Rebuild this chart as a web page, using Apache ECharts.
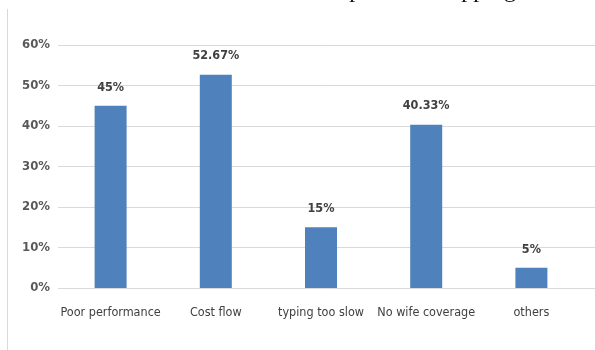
<!DOCTYPE html>
<html>
<head>
<meta charset="utf-8">
<script src="https://cdn.jsdelivr.net/npm/echarts@6/dist/echarts.min.js"></script>
<style>
  html, body { margin: 0; padding: 0; background: #fff; }
  #main { width: 595px; height: 350px; }
</style>
</head>
<body>
<div id="main"></div>
<script>
// data
const categories = ['Poor performance', 'Cost flow', 'typing too slow', 'No wife coverage', 'others'];
const values = [45, 52.67, 15, 40.33, 5];
const yTicks = [0, 10, 20, 30, 40, 50, 60];

const labelFont = '"DejaVu Sans Condensed", "Liberation Sans Narrow", sans-serif';
const gridColor = '#d9d9d9';

const chart = echarts.init(document.getElementById('main'));

const option = {
    animation: false,
    backgroundColor: '#fff',
    grid: [
        // plot area for the bars
        { left: 58, right: 11, top: 45, bottom: 62 },
        // wider copy only for the gridlines (they run to the edge)
        { left: 58, right: 0, top: 45, bottom: 62 }
    ],
    xAxis: [
        {
            type: 'category',
            gridIndex: 0,
            data: categories,
            axisTick: { show: false },
            axisLine: { show: false },
            axisLabel: {
                interval: 0,
                margin: 18,
                color: '#404040',
                fontSize: 12.5,
                fontFamily: labelFont
            }
        },
        {
            type: 'category',
            gridIndex: 1,
            data: categories,
            show: false
        }
    ],
    yAxis: [
        {
            type: 'value',
            gridIndex: 0,
            min: yTicks[0],
            max: yTicks[yTicks.length - 1],
            interval: 10,
            splitLine: { show: false },
            axisLabel: {
                margin: 8,
                color: '#595959',
                fontSize: 13,
                fontWeight: 'bold',
                fontFamily: labelFont,
                formatter: '{value}%'
            }
        },
        {
            type: 'value',
            gridIndex: 1,
            min: yTicks[0],
            max: yTicks[yTicks.length - 1],
            interval: 10,
            axisLabel: { show: false },
            splitLine: { lineStyle: { color: gridColor, width: 1 } }
        }
    ],
    series: [
        {
            type: 'bar',
            xAxisIndex: 0,
            yAxisIndex: 0,
            data: values,
            barWidth: 32,
            itemStyle: { color: '#4F81BD' },
            label: {
                show: true,
                position: 'top',
                distance: 12,
                color: '#404040',
                fontSize: 12.5,
                fontWeight: 'bold',
                fontFamily: labelFont,
                formatter: p => p.value + '%'
            }
        }
    ],
    graphic: [
        {
            type: 'line',
            shape: { x1: 7.5, y1: 9, x2: 7.5, y2: 350 },
            style: { stroke: gridColor, lineWidth: 1 }
        },
        {
            // bottom of a line of page text cut off above the chart
            type: 'text',
            left: 308,
            top: -21,
            style: {
                text: 'compared to stopping',
                font: '24px "Liberation Serif", serif',
                fill: '#111'
            }
        }
    ]
};

chart.setOption(option);
</script>
</body>
</html>
